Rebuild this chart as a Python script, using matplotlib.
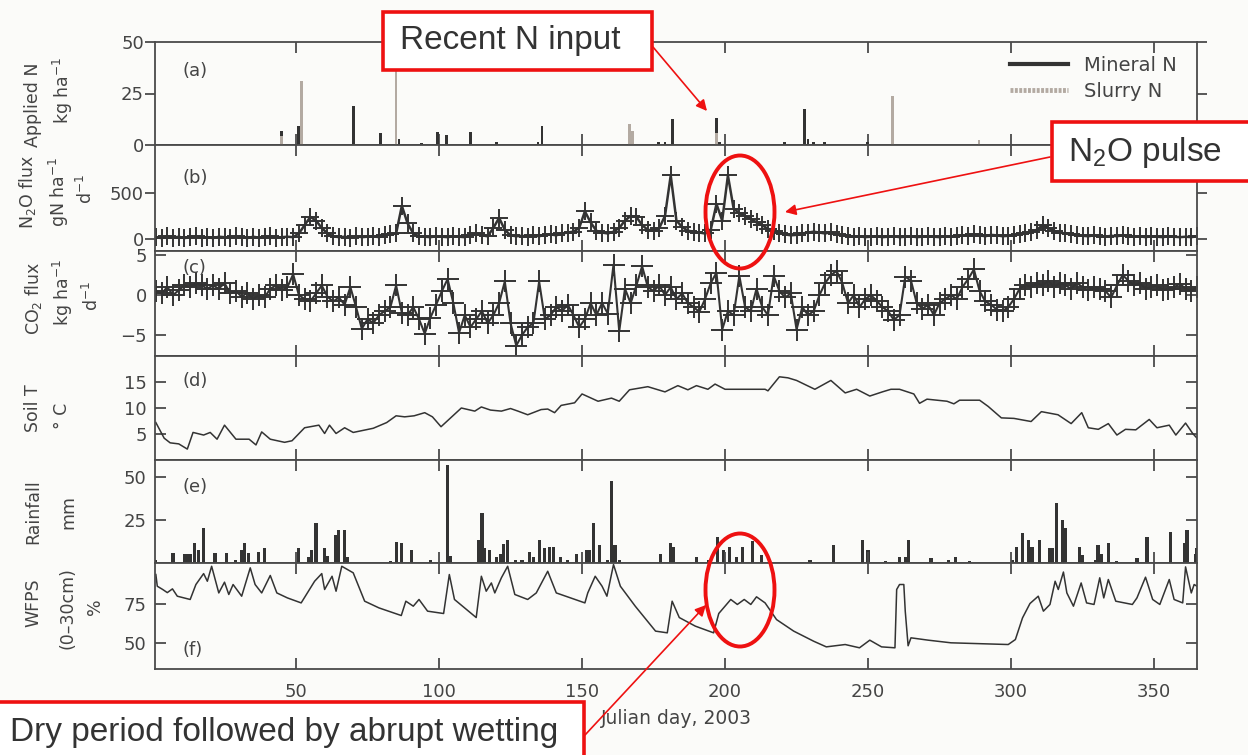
import numpy as np
import matplotlib
matplotlib.use("Agg")
import matplotlib.pyplot as plt
from matplotlib.lines import Line2D
from matplotlib.patches import Rectangle, Ellipse, FancyArrowPatch

W, H = 1248, 755
BG = '#fbfbf9'
INK = '#333333'
AXC = '#4a4a4a'
RED = '#ee1111'

plt.rcParams['font.family'] = 'DejaVu Sans'
plt.rcParams['mathtext.default'] = 'regular'

# (a) applied N, kg ha-1  (day, amount)
mineral_n = [(45, 7), (51, 9), (70, 19), (79.5, 6), (86, 3), (94, 1), (99.6, 6.5),
             (102.7, 5), (111, 6.5), (120, 1.5), (134.6, 1.5), (136, 9), (176.8, 1.5),
             (179, 1.5), (181.5, 12.5), (197, 13), (198, 1.5), (220.7, 1.5),
             (227.8, 17.5), (229, 3), (230.8, 1.5), (234.8, 1.5), (249.7, 1.5)]
slurry_n = [(45, 4.4), (52, 31), (85, 36), (166.6, 10), (167.6, 7), (197, 6),
            (258.6, 24), (288.8, 2.5)]

# (b) N2O flux, g N ha-1 d-1, every second day from day 1
n2o = [20, 10, 30, 15, 25, 10, 20, 30, 15, 20,
       10, 25, 20, 15, 30, 20, 10, 25, 15, 20,
       30, 15, 20, 25, 20, 60, 150, 240, 200, 120,
       60, 30, 20, 25, 15, 30, 20, 25, 30, 20,
       40, 50, 60, 360, 170, 60, 30, 25, 20, 30,
       25, 20, 30, 25, 20, 40, 60, 40, 30, 120,
       230, 100, 40, 30, 35, 25, 40, 30, 45, 50,
       40, 60, 70, 80, 120, 300, 180, 90, 70, 60,
       80, 120, 200, 250, 240, 150, 100, 90, 120, 250,
       690, 200, 130, 90, 80, 70, 60, 100, 380, 200,
       690, 330, 280, 250, 220, 180, 150, 110, 90, 70,
       50, 40, 45, 60, 70, 80, 70, 60, 75, 50,
       40, 30, 25, 30, 20, 25, 30, 20, 25, 30,
       20, 25, 30, 20, 25, 30, 25, 20, 30, 25,
       30, 40, 35, 50, 40, 30, 45, 40, 30, 35,
       40, 50, 60, 80, 100, 150, 120, 90, 70, 60,
       50, 40, 35, 30, 40, 30, 25, 35, 30, 40,
       30, 25, 30, 20, 30, 25, 20, 30, 25, 20,
       25, 20, 30]

# (c) CO2 flux, kg ha-1 d-1, every second day from day 1
co2 = [0.5, 0.2, 1.0, 0.0, 0.6, 1.2, 1.0, 1.5, 1.2, 0.8,
       1.2, 0.8, 1.5, 0.2, 0.5, -0.2, 0.3, -0.5, 0.0, -0.3,
       0.8, 1.2, 0.6, 1.0, 2.6, 0.0, -0.5, -0.8, 0.2, 1.2,
       -0.2, -0.8, -0.3, -1.2, 1.0, -1.5, -4.2, -3.0, -3.5, -2.5,
       -2.0, -1.5, 1.2, -2.2, -2.5, -1.5, -3.0, -4.8, -2.8, -1.2,
       0.5, 2.0, -1.0, -4.7, -2.5, -4.0, -3.0, -2.0, -3.5, -2.5,
       -1.0, 1.7, -3.5, -6.3, -5.0, -4.0, -3.5, 1.7, -3.0, -2.5,
       -1.5, -2.0, -1.2, -2.5, -4.0, -3.0, -1.0, -2.5, -1.0, -2.3,
       3.8, -4.5, 0.8, -1.0, 1.2, 3.6, 1.0, 0.5, 1.2, 0.0,
       1.0, -0.5, 0.2, -1.0, -1.5, -2.1, -0.5, 1.5, 2.8, -4.3,
       -2.0, -2.5, 2.4, -1.5, -2.0, 0.8, -1.5, -2.5, 2.4, 0.5,
       -0.3, 0.2, -4.3, -1.5, -2.5, -2.0, 0.0, 1.5, 2.5, 3.0,
       1.5, -1.0, 0.0, -1.5, -0.5, 0.0, -0.7, -1.5, -2.0, -3.1,
       -2.5, 2.3, 1.8, -1.0, -1.7, -1.2, -2.5, -1.0, -0.5, 0.0,
       -0.5, 1.0, 2.0, 3.2, 0.5, -0.8, -1.2, -1.8, -2.0, -1.5,
       -0.5, 0.8, 1.3, 1.0, 1.5, 1.2, 1.8, 1.0, 1.5, 1.2,
       0.8, 1.5, 1.0, 0.6, 1.0, 0.8, 0.5, -0.3, 1.2, 2.5,
       1.8, 1.2, 1.5, 0.8, 1.0, 1.2, 0.6, 0.8, 1.0, 1.4,
       0.8, 0.5, 1.0]
flux_days = np.arange(1, 366, 2)

# (d) soil temperature, deg C  (day, value)
soil_t = [(1, 7.2), (3.9, 4.2), (6, 3.3), (9, 3.1), (12, 2.1), (14, 5.3), (17.7, 4.8),
          (20, 5.3), (22.4, 4.0), (25, 6.7), (29, 4.0), (33.6, 4.0), (36, 2.9), (38, 5.4),
          (41, 4.0), (46, 3.4), (48.6, 3.7), (53, 6.2), (58, 6.7), (60, 5.1), (61.7, 6.7),
          (64, 5.1), (67, 6.2), (70, 5.3), (77, 6.1), (81.7, 7.2), (85, 8.5), (88, 8.3),
          (91.3, 8.5), (95, 9.1), (97.7, 8.3), (100.7, 6.4), (107.8, 10.0), (112.5, 9.4),
          (114.8, 10.2), (118, 9.6), (121.8, 9.4), (125, 9.9), (127.6, 9.4), (131, 8.7),
          (135.7, 9.7), (138, 9.8), (140.4, 9.1), (142.7, 10.5), (147.4, 11.0), (150, 12.7),
          (155.6, 11.3), (160.3, 11.9), (163, 11.3), (166.6, 13.5), (173, 14.1), (179, 13.1),
          (183.5, 14.3), (187, 13.5), (190, 14.3), (194, 13.6), (196.5, 14.6), (200, 13.6),
          (207, 13.6), (214, 13.6), (215, 13.3), (219, 16.0), (222, 15.8), (225, 15.3),
          (228, 14.5), (231.4, 13.6), (237, 15.3), (242, 12.9), (246, 13.6), (250.6, 12.3),
          (255, 13.1), (258, 13.6), (261, 13.6), (266, 12.7), (268, 10.9), (270.6, 11.7),
          (277.6, 11.3), (280, 10.8), (282, 11.5), (289, 11.5), (292, 10.3), (296.6, 8.1),
          (301, 8.0), (307, 7.4), (310.6, 9.3), (316.4, 8.7), (321, 7.0), (324.7, 9.1),
          (327, 6.2), (330.5, 5.9), (334, 7.0), (337, 4.8), (340, 5.9), (343.6, 5.8),
          (348.3, 7.8), (351, 6.2), (355.3, 6.7), (357.6, 4.8), (361, 7.1), (363.5, 5.1),
          (365, 4.2)]

# (e) rainfall, mm  (day, value)
rain = [(1, 1.7), (7, 5.6), (11, 5), (12, 5), (13, 5), (14.5, 11.4), (16, 7.4), (17.7, 20.5),
        (21.7, 5.6), (25.7, 6), (28.7, 2), (31, 7.4), (32, 11.6), (33.4, 5.6), (36.8, 6.2),
        (39, 9), (51, 8.5), (54.5, 3.5), (55.5, 7.4), (57, 23.4), (60, 8.9), (61, 3.9),
        (64, 16.3), (65, 19), (67, 19), (68, 3.5), (83, 1), (85, 12), (87, 11.6), (90.5, 7.4),
        (97, 2), (103, 57), (104, 4), (114, 13.4), (115, 29.3), (116, 8.5), (117.5, 7.4),
        (120, 3.5), (121.5, 5.5), (122.5, 10.9), (124, 13.4), (126.7, 2), (129, 2),
        (131.6, 6.2), (133, 3.5), (135, 13.4), (137, 8.5), (138.6, 9.3), (140, 9.3),
        (142.6, 3.5), (145, 2), (148, 5.5), (151.5, 7.4), (152.7, 7.4), (154, 23.4),
        (156, 10.3), (159, 2), (160.4, 47.9), (161.5, 10.3), (163, 2), (177.5, 5.5),
        (181, 11.4), (182, 9.3), (190, 3.5), (194.4, 2), (197.4, 15.2), (199.6, 7.4),
        (201.5, 9.3), (204, 3.5), (206, 9.3), (209.6, 12.6), (212.6, 4.8), (229.7, 2),
        (238, 10.5), (248, 13.4), (250, 7.4), (256, 1), (261, 3.5), (263, 3.5), (264, 13.4),
        (272, 3), (278, 2), (280.5, 3.5), (285.5, 1), (300.5, 2), (302, 9.3), (304, 17.4),
        (306, 13.4), (307.3, 9.3), (310, 13.4), (313.6, 8.5), (314.5, 8.5), (316, 35),
        (318, 25), (319, 20.4), (324, 9.3), (325, 4.8), (329.5, 2), (330.4, 10.3),
        (331.6, 5.5), (334, 11.4), (337, 1), (344, 3), (347.5, 15.2), (355.6, 18.2),
        (360.5, 11.4), (361.5, 19), (364.5, 5.5), (365, 8.5)]

# (f) WFPS 0-30 cm, %  (day, value)
wfps = [(1, 93.6), (1.5, 86.1), (3.4, 84), (5, 82), (6.8, 84.4), (8.5, 79.7), (13, 77.6),
        (15, 87.2), (17.7, 94.2), (19, 89.3), (20.5, 98.9), (23, 81.8), (25, 88.7),
        (26.5, 80.8), (28, 87.2), (31, 79.7), (34, 97.9), (35.7, 87.2), (38, 81.8), (41, 93),
        (43.3, 81.8), (47, 78.6), (51.8, 75.4), (56.5, 89.3), (59, 94.2), (60, 84),
        (62.6, 92.5), (64, 82.9), (66, 98.9), (68, 96.8), (70, 94.7), (74, 76.5), (79, 72.2),
        (86.8, 67.3), (88.4, 76.5), (91, 73.3), (93, 77.6), (96, 70.1), (101.6, 68.6),
        (103.6, 93.6), (105.4, 77.6), (113, 66), (114.8, 92.5), (116.5, 82.9), (118.3, 88.2),
        (119.5, 81.8), (121.8, 91.5), (124, 98.9), (126.5, 80.8), (131, 77.6), (134, 81.8),
        (138, 95.7), (141, 81.8), (146, 78.6), (151, 75.4), (152, 81.8), (154.6, 92.5),
        (157, 86.1), (158.7, 79.7), (161, 100), (163.4, 86.1), (168.6, 73.3), (175.7, 57.3),
        (179.8, 56.2), (181.5, 76.5), (184, 66), (189.6, 60.5), (196, 56.2), (197.8, 68.6),
        (202, 77.6), (204.3, 74.4), (206.7, 77.6), (209, 74.4), (211, 79.3), (214, 75.4),
        (218, 64.7), (224, 57.3), (231, 50.8), (235.4, 47.2), (242, 48.7), (247, 46.6),
        (250.6, 51.5), (254.7, 47.2), (259.4, 46.6), (260, 84), (261, 87.2), (262.5, 87.2),
        (263, 70.1), (264, 47.9), (265, 53), (271, 51.5), (279, 49.8), (299, 48.7),
        (301.5, 51.9), (304, 65.8), (306.6, 75), (309.5, 79.7), (311.3, 70.1), (313.6, 74.4),
        (315.4, 89.3), (316.5, 84), (318.3, 95.2), (319.5, 81.8), (321.8, 73.3), (324.5, 88.2),
        (326.4, 75.4), (329, 74.4), (331, 91.5), (332.4, 78.6), (334, 90.4), (336.6, 76.5),
        (342.4, 74.4), (344, 78.6), (347, 91.9), (349.5, 77.6), (352, 74.4), (355.3, 90.4),
        (357, 77.6), (360, 75.4), (361, 98.5), (363, 81.8), (364, 87.2), (365, 86.1)]

x_ticks = [50, 100, 150, 200, 250, 300, 350]


def fx(px):
    return px / W


def fy(py):
    return 1 - py / H


fig = plt.figure(figsize=(W / 100, H / 100), dpi=100, facecolor=BG)

edges = [42, 145, 251, 356, 460, 563, 669]
left, right = 155, 1197
axs = []
for i in range(6):
    ax = fig.add_axes([fx(left), fy(edges[i + 1]), fx(right - left), (edges[i + 1] - edges[i]) / H])
    ax.set_facecolor(BG)
    ax.set_xlim(0.7, 365)
    ax.set_xticks(x_ticks)
    for s in ax.spines.values():
        s.set_color(AXC)
        s.set_linewidth(1.3)
    ax.tick_params(axis='x', which='both', direction='in', top=True, bottom=True,
                   length=8, width=1.3, color=AXC, labelbottom=(i == 5), pad=10,
                   labelsize=13, labelcolor='#444444')
    ydir = 'out' if i < 2 else 'in'
    ax.tick_params(axis='y', direction=ydir, left=True, right=True, length=7 if i < 2 else 8,
                   width=1.3, color=AXC, pad=1 if i < 2 else 6, labelsize=13,
                   labelcolor='#444444')
    axs.append(ax)

# (a)
ax = axs[0]
md, mv = zip(*mineral_n)
sd, sv = zip(*slurry_n)
ax.bar(md, mv, width=1.0, color=INK, zorder=2)
ax.bar(sd, sv, width=0.9, color='#b3aaa2', zorder=3)
ax.set_ylim(0, 50)
ax.set_yticks([0, 25, 50])
handles = [Line2D([], [], color=INK, lw=3),
           Line2D([], [], color='#b3aaa2', lw=3.5, linestyle=(0, (0.6, 0.3)))]
ax.legend(handles, ['Mineral N', 'Slurry N'], loc='upper left', frameon=False,
          bbox_to_anchor=(fx(1010), fy(56)), bbox_transform=fig.transFigure,
          fontsize=14, handlelength=3.0, handletextpad=0.8, labelspacing=0.35,
          borderpad=0, borderaxespad=0, labelcolor='#444444')

# (b)
ax = axs[1]
ax.plot(flux_days, n2o, color=INK, lw=1.8, marker='+', ms=13, mew=1.4)
ax.set_ylim(-130, 1020)
ax.set_yticks([0, 500])

# (c)
ax = axs[2]
ax.plot(flux_days, co2, color=INK, lw=1.5, marker='+', ms=16, mew=1.4)
ax.set_ylim(-7.6, 5.5)
ax.set_yticks([-5, 0, 5])

# (d)
ax = axs[3]
td, tv = zip(*soil_t)
ax.plot(td, tv, color=INK, lw=1.1)
ax.set_ylim(0, 20)
ax.set_yticks([5, 10, 15])

# (e)
ax = axs[4]
rd, rv = zip(*rain)
ax.bar(rd, rv, width=1.1, color=INK)
ax.set_ylim(0, 60)
ax.set_yticks([25, 50])

# (f)
ax = axs[5]
wd, wv = zip(*wfps)
ax.plot(wd, wv, color=INK, lw=1.1)
ax.set_ylim(33, 101)
ax.set_yticks([50, 75])

# panel letters
for lab, py in zip(['(a)', '(b)', '(c)', '(d)', '(e)', '(f)'], [71, 178, 268, 381, 487, 650]):
    fig.text(fx(183), fy(py), lab, fontsize=13, color='#444444', va='center', ha='left')

# y labels
ylabels = [("Applied N", 33, 105), ("kg ha$^{-1}$", 63, 90),
           ("N$_2$O flux", 27, 192), ("gN ha$^{-1}$", 59, 192), ("d$^{-1}$", 86, 189),
           ("CO$_2$ flux", 33, 298), ("kg ha$^{-1}$", 63, 292), ("d$^{-1}$", 92, 296),
           ("Soil T", 33, 408), ("° C", 62, 416),
           ("Rainfall", 33, 512), ("mm", 68, 512),
           ("WFPS", 33, 603), ("(0–30cm)", 67, 608), ("%", 95, 607)]
for txt, px, py in ylabels:
    fig.text(fx(px), fy(py), txt, rotation=90, fontsize=12.5, color='#444444',
             ha='center', va='center')

fig.text(fx(676), fy(719), 'Julian day, 2003', fontsize=13.5, color='#444444',
         ha='center', va='center')

# call-out boxes
boxes = [(383, 12, 652, 70, 'Recent N input', 400, 41),
         (1052, 122, 1260, 181, 'N$_2$O pulse', 1068, 153),
         (-10, 702, 584, 770, 'Dry period followed by abrupt wetting', 10, 733)]
for x0, y0, x1, y1, txt, tx, ty in boxes:
    fig.add_artist(Rectangle((fx(x0), fy(y1)), fx(x1 - x0), (y1 - y0) / H,
                             transform=fig.transFigure, facecolor='white', edgecolor=RED,
                             lw=2.6, zorder=10))
    fig.text(fx(tx), fy(ty), txt, fontsize=24, family='Liberation Sans', color='#333333',
             ha='left', va='center', zorder=11)

for cx, cy in [(740, 212), (740, 590)]:
    fig.add_artist(Ellipse((fx(cx), fy(cy)), fx(69), 113 / H, transform=fig.transFigure,
                           fill=False, edgecolor=RED, lw=2.8, zorder=10))

for (x0, y0), (x1, y1) in [((653, 47), (707, 111)), ((1050, 157), (785, 212)),
                           ((585, 735), (706, 605))]:
    fig.add_artist(FancyArrowPatch((fx(x0), fy(y0)), (fx(x1), fy(y1)),
                                   transform=fig.transFigure, arrowstyle='-|>',
                                   mutation_scale=16, color=RED, lw=1.2,
                                   shrinkA=0, shrinkB=0, zorder=10))

fig.savefig('out.png', dpi=100, facecolor=BG)
